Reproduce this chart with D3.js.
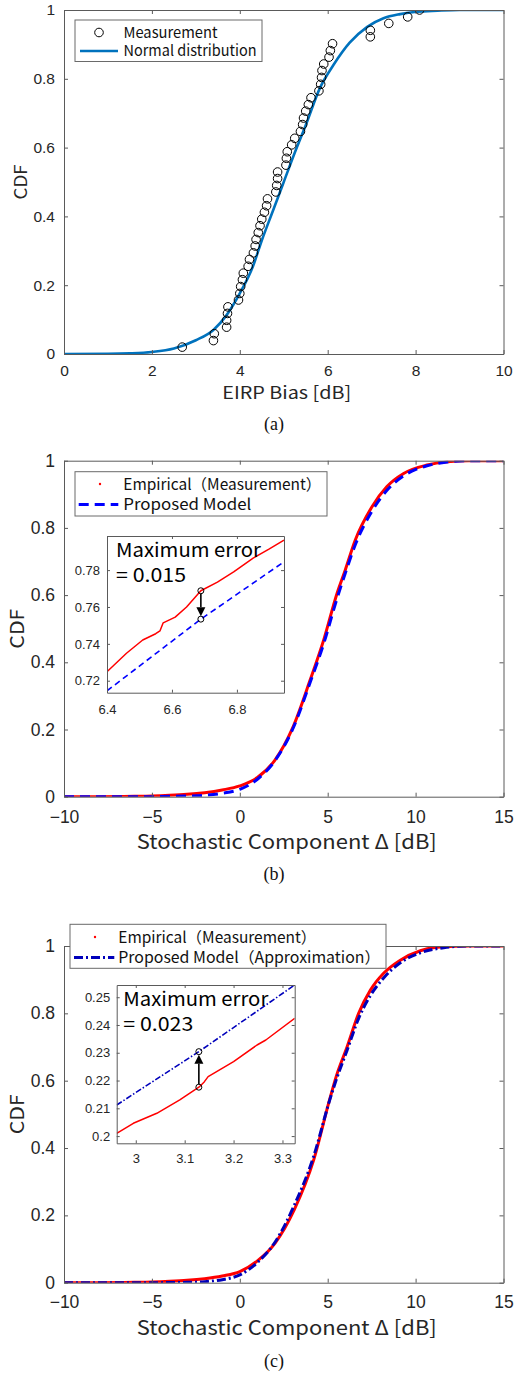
<!DOCTYPE html>
<html lang="ja">
<head>
<meta charset="UTF-8">
<title>CDF of EIRP bias and stochastic component</title>
<style>
  html, body { margin: 0; padding: 0; background: #fff; }
  svg { display: block; }
</style>
</head>
<body>
<svg id="svg" width="514" height="1374"></svg>
<script src="https://d3js.org/d3.v7.min.js"></script>
<script>
// ---- panel (a): EIRP bias ----
const biasTicks = [0, 2, 4, 6, 8, 10];
const cdfTicks = [0, 0.2, 0.4, 0.6, 0.8, 1];
const measBias = [2.69, 3.40, 3.42, 3.70, 3.70, 3.72, 3.73, 3.97, 4.00, 4.02, 4.06, 4.08, 4.19, 4.22, 4.31, 4.35, 4.37,
  4.42, 4.46, 4.50, 4.56, 4.61, 4.63, 4.82, 4.84, 4.86, 4.86, 5.05, 5.06, 5.08, 5.18, 5.25, 5.38, 5.43, 5.45, 5.50,
  5.56, 5.62, 5.80, 5.84, 5.86, 5.87, 5.91, 6.03, 6.06, 6.11, 6.97, 6.97, 7.39, 7.82, 8.09];
const measCdf = [0.020, 0.039, 0.059, 0.078, 0.098, 0.118, 0.137, 0.157, 0.176, 0.196, 0.216, 0.235, 0.255, 0.275,
  0.294, 0.314, 0.333, 0.353, 0.373, 0.392, 0.412, 0.431, 0.451, 0.471, 0.490, 0.510, 0.529, 0.549, 0.569, 0.588,
  0.608, 0.627, 0.647, 0.667, 0.686, 0.706, 0.725, 0.745, 0.765, 0.784, 0.804, 0.824, 0.843, 0.863, 0.882, 0.902,
  0.922, 0.941, 0.961, 0.980, 1.000];
const normBias = [0, 1, 1.5, 2, 2.5, 3, 3.4, 3.7, 4, 4.3, 4.5, 4.75, 5, 5.25, 5.5, 5.83, 6.13, 6.5, 6.9, 7.27, 7.65, 8.03, 8.5, 9, 10];
const normCdf = [0, 0.0005, 0.002, 0.006, 0.016, 0.04, 0.07, 0.113, 0.176, 0.255, 0.33, 0.415, 0.5, 0.585, 0.665, 0.775,
  0.84, 0.905, 0.951, 0.976, 0.988, 0.995, 0.998, 1, 1];

// ---- panel (b): proposed model ----
const deltaTicks = [-10, -5, 0, 5, 10, 15];
const deltaB = [-10, -8, -6, -5, -4, -3, -2, -1, 0, 1, 2, 3, 4, 4.77, 5.53, 6.0, 6.57, 7.52, 8.37, 9.32, 10.65, 11.8, 13, 15];
const empB = [0, 0, 0.001, 0.002, 0.004, 0.007, 0.012, 0.02, 0.032, 0.057, 0.109, 0.204, 0.347, 0.466, 0.605, 0.675,
  0.764, 0.863, 0.923, 0.962, 0.987, 0.997, 1, 1];
const modelB = [0, 0, 0, 0, 0.001, 0.002, 0.004, 0.01, 0.022, 0.052, 0.107, 0.2, 0.34, 0.455, 0.59, 0.665, 0.75, 0.85,
  0.912, 0.955, 0.985, 0.996, 1, 1];
const insetBxTicks = [6.4, 6.6, 6.8];
const insetByTicks = [0.72, 0.74, 0.76, 0.78];
const insetBRedX = [6.40, 6.46, 6.51, 6.55, 6.563, 6.573, 6.61, 6.645, 6.689, 6.74, 6.79, 6.85, 6.90, 6.945];
const insetBRedY = [0.7249, 0.7349, 0.7421, 0.7455, 0.7470, 0.7514, 0.7545, 0.7600, 0.7688, 0.7735, 0.7790, 0.7865, 0.7915, 0.7963];
const insetBBlueX = [6.40, 6.689, 6.945];
const insetBBlueY = [0.7145, 0.7534, 0.7845];
const errB = { x: 6.689, from: 0.7688, to: 0.7534, text: '= 0.015' };

// ---- panel (c): approximation ----
const deltaC = [-10, -8, -6, -5, -4, -3, -2, -1, 0, 1, 2, 3.1, 4.2, 5.1, 5.5, 6.1, 6.76, 7.43, 8.18, 9.13, 10.27, 11.6, 13, 15];
const empC = [0, 0, 0.001, 0.002, 0.004, 0.007, 0.012, 0.02, 0.033, 0.065, 0.117, 0.217, 0.364, 0.542, 0.615, 0.70,
  0.80, 0.869, 0.919, 0.958, 0.986, 0.998, 1, 1];
const modelC = [0, 0, 0, 0, 0.0005, 0.001, 0.003, 0.009, 0.023, 0.06, 0.12, 0.23, 0.375, 0.54, 0.605, 0.69, 0.785,
  0.853, 0.905, 0.95, 0.98, 0.995, 1, 1];
const insetCxTicks = [3, 3.1, 3.2, 3.3];
const insetCyTicks = [0.2, 0.21, 0.22, 0.23, 0.24, 0.25];
const insetCRedX = [2.961, 2.995, 3.043, 3.09, 3.129, 3.14, 3.148, 3.2, 3.248, 3.266, 3.325];
const insetCRedY = [0.201, 0.2046, 0.2082, 0.213, 0.2176, 0.2195, 0.2214, 0.2268, 0.2328, 0.2346, 0.2424];
const insetCBlueX = [2.961, 3.129, 3.325];
const insetCBlueY = [0.2112, 0.2304, 0.2544];
const errC = { x: 3.129, from: 0.2176, to: 0.2304, text: '= 0.023' };

const svg = d3.select('#svg');
const tickFont = '"Liberation Sans", Arial, sans-serif';
const labelFont = '"Noto Sans CJK JP", "Noto Sans", sans-serif';
const serifFont = '"Liberation Serif", "Times New Roman", serif';
const axisColor = '#5a5a5a';
const red = '#ff0000', blue = '#0000ff', navy = '#0000bb', matBlue = '#0072bd';
let clipCount = 0;

svg.append('rect').attr('width', 514).attr('height', 1374).attr('fill', '#fff');

const zip = (xs, ys) => xs.map((v, i) => [v, ys[i]]);
const fmt = d => d < 0 ? '\u2212' + Math.abs(d) : String(d);

// set up one axes box: scales, white background, clip group
function makeFrame(box, xDomain, yDomain) {
  const x = d3.scaleLinear().domain(xDomain).range([box.left, box.right]);
  const y = d3.scaleLinear().domain(yDomain).range([box.bottom, box.top]);
  const g = svg.append('g');
  g.append('rect')
    .attr('x', box.left).attr('y', box.top)
    .attr('width', box.right - box.left).attr('height', box.bottom - box.top)
    .attr('fill', '#fff');
  const id = 'clip' + (clipCount++);
  g.append('clipPath').attr('id', id).append('rect')
    .attr('x', box.left).attr('y', box.top)
    .attr('width', box.right - box.left).attr('height', box.bottom - box.top);
  const plot = g.append('g').attr('clip-path', `url(#${id})`);
  return { x, y, g, plot, box };
}

function drawAxes(f, o) {
  const { x, y, g, box } = f;
  const ax = g.append('g');
  ax.append('g').attr('transform', `translate(0,${box.bottom})`)
    .call(d3.axisBottom(x).tickValues(o.xTicks).tickSizeInner(-o.tick).tickSizeOuter(0).tickPadding(o.xPad).tickFormat(fmt));
  ax.append('g').attr('transform', `translate(0,${box.top})`)
    .call(d3.axisTop(x).tickValues(o.xTicks).tickSizeInner(-o.tick).tickSizeOuter(0).tickFormat(''));
  ax.append('g').attr('transform', `translate(${box.left},0)`)
    .call(d3.axisLeft(y).tickValues(o.yTicks).tickSizeInner(-o.tick).tickSizeOuter(0).tickPadding(o.yPad).tickFormat(fmt));
  ax.append('g').attr('transform', `translate(${box.right},0)`)
    .call(d3.axisRight(y).tickValues(o.yTicks).tickSizeInner(-o.tick).tickSizeOuter(0).tickFormat(''));
  ax.selectAll('.domain').attr('stroke', axisColor).attr('stroke-width', 1);
  ax.selectAll('.tick line').attr('stroke', axisColor).attr('stroke-width', 1);
  ax.selectAll('.tick text')
    .attr('fill', '#262626')
    .style('font-family', tickFont)
    .style('font-size', o.font + 'px');
}

function drawLine(f, pts, color, width, dash, curve) {
  const line = d3.line().x(d => f.x(d[0])).y(d => f.y(d[1])).curve(curve || d3.curveMonotoneX);
  f.plot.append('path')
    .datum(pts)
    .attr('fill', 'none')
    .attr('stroke', color)
    .attr('stroke-width', width)
    .attr('stroke-dasharray', dash || null)
    .attr('stroke-linejoin', 'round')
    .attr('d', line);
}

function axisLabels(f, xText, xBase, xLen, xSize, yCx, ySize, yLen) {
  const { box } = f;
  svg.append('text')
    .attr('x', (box.left + box.right) / 2 + 3).attr('y', xBase)
    .attr('text-anchor', 'middle')
    .attr('textLength', xLen).attr('lengthAdjust', 'spacingAndGlyphs')
    .style('font-family', labelFont).style('font-size', xSize + 'px').attr('fill', '#262626')
    .text(xText);
  const cy = (box.top + box.bottom) / 2;
  svg.append('text')
    .attr('transform', `translate(${yCx},${cy}) rotate(-90)`)
    .attr('text-anchor', 'middle').attr('dy', '0.36em')
    .attr('textLength', yLen).attr('lengthAdjust', 'spacingAndGlyphs')
    .style('font-family', labelFont).style('font-size', ySize + 'px').attr('fill', '#262626')
    .text('CDF');
}

function caption(text, cx, base) {
  svg.append('text')
    .attr('x', cx).attr('y', base).attr('text-anchor', 'middle')
    .style('font-family', serifFont).style('font-size', '18px').attr('fill', '#111')
    .text(text);
}

// legend box: rows of {kind, color, dash, width, label, len}
function legend(box, rows, o) {
  const g = svg.append('g');
  g.append('rect')
    .attr('x', box.left).attr('y', box.top)
    .attr('width', box.right - box.left).attr('height', box.bottom - box.top)
    .attr('fill', '#fff').attr('stroke', '#6a6a6a').attr('stroke-width', 1);
  rows.forEach((r, i) => {
    const cy = o.firstY + i * o.rowH;
    if (r.kind === 'circle') {
      g.append('circle').attr('cx', o.markX).attr('cy', cy).attr('r', 4.3)
        .attr('fill', 'none').attr('stroke', '#000').attr('stroke-width', 1);
    } else if (r.kind === 'dot') {
      g.append('circle').attr('cx', o.markX).attr('cy', cy).attr('r', 1.2).attr('fill', r.color);
    } else {
      g.append('line').attr('x1', o.lineX0).attr('x2', o.lineX1).attr('y1', cy).attr('y2', cy)
        .attr('stroke', r.color).attr('stroke-width', r.width)
        .attr('stroke-dasharray', r.dash || null);
    }
    g.append('text')
      .attr('x', o.textX).attr('y', cy).attr('dy', '0.36em')
      .attr('textLength', r.len).attr('lengthAdjust', 'spacingAndGlyphs')
      .style('font-family', labelFont).style('font-size', o.font + 'px').attr('fill', '#111')
      .text(r.label);
  });
}

function errorMark(f, e, r) {
  const cx = f.x(e.x), y1 = f.y(e.from), y2 = f.y(e.to);
  const dir = Math.sign(y2 - y1);
  const tip = y2 - dir * r;
  const base = tip - dir * 9;
  f.g.append('line').attr('x1', cx).attr('x2', cx).attr('y1', y1 + dir * r).attr('y2', base)
    .attr('stroke', '#000').attr('stroke-width', 1.6);
  f.g.append('path')
    .attr('d', `M${cx},${tip} L${cx - 4.5},${base} L${cx + 4.5},${base} Z`)
    .attr('fill', '#000');
  [y1, y2].forEach(cy => {
    f.g.append('circle').attr('cx', cx).attr('cy', cy).attr('r', r)
      .attr('fill', 'none').attr('stroke', '#000').attr('stroke-width', 1);
  });
}

function insetNote(f, dx, base1, text) {
  const g = f.g;
  g.append('text').attr('x', f.box.left + dx).attr('y', base1)
    .attr('textLength', 145).attr('lengthAdjust', 'spacingAndGlyphs')
    .style('font-family', labelFont).style('font-size', '19px').attr('fill', '#000')
    .text('Maximum error');
  g.append('text').attr('x', f.box.left + dx).attr('y', base1 + 25)
    .attr('textLength', 70).attr('lengthAdjust', 'spacingAndGlyphs')
    .style('font-family', labelFont).style('font-size', '19px').attr('fill', '#000')
    .text(text);
}

// ================= (a) =================
const fa = makeFrame({ left: 64, right: 503.5, top: 10, bottom: 354 }, [0, 10], [0, 1]);
drawLine(fa, zip(normBias, normCdf), matBlue, 2.6);
fa.plot.selectAll('circle.meas')
  .data(zip(measBias, measCdf))
  .join('circle')
  .attr('class', 'meas')
  .attr('cx', d => fa.x(d[0])).attr('cy', d => fa.y(d[1])).attr('r', 4.3)
  .attr('fill', 'none').attr('stroke', '#000').attr('stroke-width', 1);
drawAxes(fa, { xTicks: biasTicks, yTicks: cdfTicks, tick: 4, xPad: 11, yPad: 9, font: 15.5 });
axisLabels(fa, 'EIRP Bias [dB]', 399, 129, 17, 21, 17, 35);
legend({ left: 75, right: 262, top: 20, bottom: 61.5 }, [
  { kind: 'circle', label: 'Measurement', len: 94 },
  { kind: 'line', color: matBlue, width: 2.6, label: 'Normal distribution', len: 133 }
], { firstY: 32.5, rowH: 18.5, markX: 99, lineX0: 80, lineX1: 118, textX: 123.5, font: 15 });
caption('(a)', 274, 430);

// ================= (b) =================
const fb = makeFrame({ left: 64, right: 503.5, top: 460.7, bottom: 796.7 }, [-10, 15], [0, 1]);
drawLine(fb, zip(deltaB, empB), red, 3);
drawLine(fb, zip(deltaB, modelB), blue, 3, '10,6');
drawAxes(fb, { xTicks: deltaTicks, yTicks: cdfTicks, tick: 4, xPad: 13.5, yPad: 9, font: 17.5 });
axisLabels(fb, 'Stochastic Component \u0394 [dB]', 849, 300, 20, 17, 19, 40);

const ib = makeFrame({ left: 107, right: 284, top: 536, bottom: 692.7 }, [6.4, 6.945], [0.7135, 0.7985]);
drawLine(ib, zip(insetBRedX, insetBRedY), red, 1.5, null, d3.curveLinear);
drawLine(ib, zip(insetBBlueX, insetBBlueY), blue, 1.6, '6,4', d3.curveLinear);
drawAxes(ib, { xTicks: insetBxTicks, yTicks: insetByTicks, tick: 3, xPad: 12, yPad: 7, font: 13 });
insetNote(ib, 9, 557, errB.text);
errorMark(ib, errB, 3);

legend({ left: 75, right: 327, top: 471.7, bottom: 516 }, [
  { kind: 'dot', color: red, label: 'Empirical\uFF08Measurement\uFF09', len: 198 },
  { kind: 'line', color: blue, width: 3, dash: '10,6', label: 'Proposed Model', len: 128 }
], { firstY: 484, rowH: 20.5, markX: 100, lineX0: 78.7, lineX1: 118.3, textX: 123.3, font: 15.5 });
caption('(b)', 274, 880);

// ================= (c) =================
const fc = makeFrame({ left: 64, right: 503.5, top: 946, bottom: 1282.7 }, [-10, 15], [0, 1]);
drawLine(fc, zip(deltaC, empC), red, 3);
drawLine(fc, zip(deltaC, modelC), navy, 3, '9,3,2,3');
drawAxes(fc, { xTicks: deltaTicks, yTicks: cdfTicks, tick: 4, xPad: 13, yPad: 9, font: 17.5 });
axisLabels(fc, 'Stochastic Component \u0394 [dB]', 1335, 300, 20, 17, 19, 40);

const ic = makeFrame({ left: 116.7, right: 294.7, top: 985, bottom: 1143.3 }, [2.961, 3.325], [0.1974, 0.2544]);
drawLine(ic, zip(insetCRedX, insetCRedY), red, 1.5, null, d3.curveLinear);
drawLine(ic, zip(insetCBlueX, insetCBlueY), navy, 1.6, '6,2,1.5,2', d3.curveLinear);
drawAxes(ic, { xTicks: insetCxTicks, yTicks: insetCyTicks, tick: 3, xPad: 10.5, yPad: 6.5, font: 13 });
insetNote(ic, 6.6, 1006, errC.text);
errorMark(ic, errC, 3);

legend({ left: 70, right: 386, top: 924.3, bottom: 968.3 }, [
  { kind: 'dot', color: red, label: 'Empirical\uFF08Measurement\uFF09', len: 198 },
  { kind: 'line', color: navy, width: 3, dash: '9,3,2,3', label: 'Proposed Model\uFF08Approximation\uFF09', len: 262 }
], { firstY: 937, rowH: 20.5, markX: 95, lineX0: 74, lineX1: 114.3, textX: 118.3, font: 15.5 });
caption('(c)', 274, 1367);
</script>
</body>
</html>
